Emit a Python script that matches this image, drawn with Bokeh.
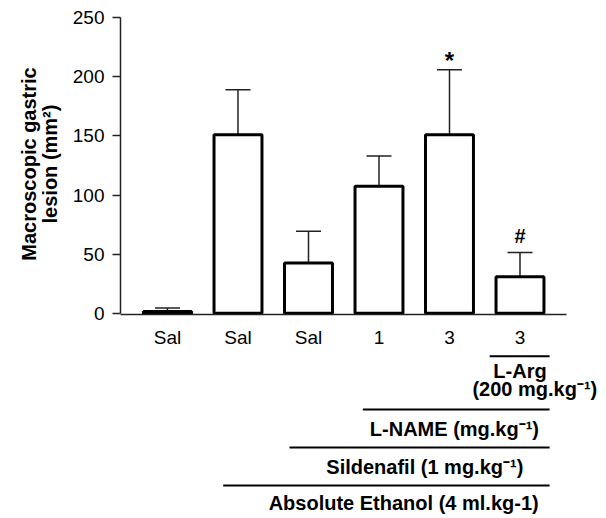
from bokeh.plotting import figure
from bokeh.layouts import column
from bokeh.models import Range1d, FixedTicker, Whisker, TeeHead, ColumnDataSource
from bokeh.core.properties import value
from bokeh.embed import file_html
from bokeh.resources import INLINE

# ---- data ----
categories = ["Sal", "Sal", "Sal", "1", "3", "3"]
lesion_mean = [1.5, 151, 42.5, 107.5, 151, 31]
lesion_sem = [3, 38, 27, 25.5, 55, 20.5]
y_ticks = [0, 50, 100, 150, 200, 250]
marks = ["", "", "", "", "*", "#"]
y_title = "Macroscopic gastric\nlesion (mm\u00b2)"
# treatment rows: first group index covered, text
larg_first, larg_text = 6, ["L-Arg", "(200 mg.kg\u207b\u00b9)"]
lname_first, lname_text = 4, "L-NAME (mg.kg\u207b\u00b9)"
sild_first, sild_text = 3, "Sildenafil (1 mg.kg\u207b\u00b9)"
eth_first, eth_text = 2, "Absolute Ethanol (4 ml.kg-1)"

FONT = "Liberation Sans"
n = len(categories)
xs = list(range(1, n + 1))
upper = [m + s for m, s in zip(lesion_mean, lesion_sem)]

x_range = Range1d(1 - 2 / 3, 7.227)

# ---------------- top: bar chart ----------------
p = figure(width=606, height=350, output_backend="svg", toolbar_location=None,
           x_range=x_range, y_range=Range1d(-1.0, 253.6),
           min_border_left=120, min_border_right=0,
           min_border_top=13, min_border_bottom=34)
p.outline_line_color = None
p.grid.visible = False

ay = p.yaxis[0]
ay.bounds = (min(y_ticks), max(y_ticks))
ay.ticker = FixedTicker(ticks=y_ticks)
ay.minor_tick_line_color = None
ay.major_tick_in = 0
ay.major_tick_out = 8
ay.major_label_standoff = 8
ay.axis_label = y_title
ay.axis_label_standoff = 9
ay.axis_label_text_font = FONT
ay.axis_label_text_font_size = "20px"
ay.axis_label_text_font_style = "bold"
ay.axis_label_text_line_height = 0.95
ay.axis_label_text_color = "black"

ax = p.xaxis[0]
ax.bounds = (xs[0] - 2 / 3, xs[-1] + 2 / 3)
ax.ticker = FixedTicker(ticks=xs)
ax.major_label_overrides = {x: c for x, c in zip(xs, categories)}
ax.minor_tick_line_color = None
ax.major_tick_in = 0
ax.major_tick_out = 0
ax.major_label_standoff = 12

for a in (ax, ay):
    a.axis_line_width = 1.5
    a.major_tick_line_width = 1.5
    a.axis_line_color = "#222222"
    a.major_tick_line_color = "#222222"
    a.major_label_text_font = FONT
    a.major_label_text_font_size = "19px"
    a.major_label_text_color = "black"

mark_gap = [0, 0, 0, 0, 8, 13.5]
mark_size = ["20px", "20px", "20px", "20px", "24px", "20px"]
src = ColumnDataSource(dict(x=xs, mean=lesion_mean, upper=upper, mark=marks,
                            mark_y=[u + g for u, g in zip(upper, mark_gap)],
                            mark_size=mark_size))

wh = Whisker(base="x", lower="mean", upper="upper", source=src, dimension="height",
             line_color="#222222", line_width=1.5,
             upper_head=TeeHead(size=25, line_width=1.5, line_color="#222222"),
             lower_head=None, level="underlay")
p.add_layout(wh)

p.vbar(x="x", top="mean", bottom=0, width=0.68, source=src,
       fill_color="white", line_color="black", line_width=3)

p.text(x="x", y="mark_y", text="mark", source=src, text_font=value(FONT),
       text_font_size="mark_size", text_font_style="bold", text_align="center",
       text_baseline="alphabetic", text_color="black")

# ---------------- bottom: treatment brackets ----------------
q = figure(width=606, height=168, output_backend="svg", toolbar_location=None,
           x_range=x_range, y_range=Range1d(168, 0),
           x_axis_location=None, y_axis_location=None,
           min_border_left=120, min_border_right=0,
           min_border_top=0, min_border_bottom=0)
q.outline_line_color = None
q.grid.visible = False

right_end = 6.42

def hline(first, pad, yv):
    q.segment(x0=[first - pad], y0=[yv], x1=[right_end], y1=[yv],
              line_color="black", line_width=2)

def btext(xv, yv, t):
    q.text(x=[xv], y=[yv], text=[t], text_font=value(FONT), text_font_size="20px",
           text_font_style="bold", text_align="center", text_baseline="middle",
           text_color="black")

hline(larg_first, 0.43, 5.7)
btext(larg_first, 20.7, larg_text[0])
btext(larg_first + 0.21, 38.0, larg_text[1])

hline(lname_first, 0.23, 59.0)
btext(5.07, 78.0, lname_text)

hline(sild_first, 0.27, 97.0)
btext(4.65, 116.7, sild_text)

hline(eth_first, 0.21, 135.0)
btext(4.35, 152.7, eth_text)

layout = column(p, q, spacing=0)
open("out.html", "w").write(file_html(layout, INLINE))
